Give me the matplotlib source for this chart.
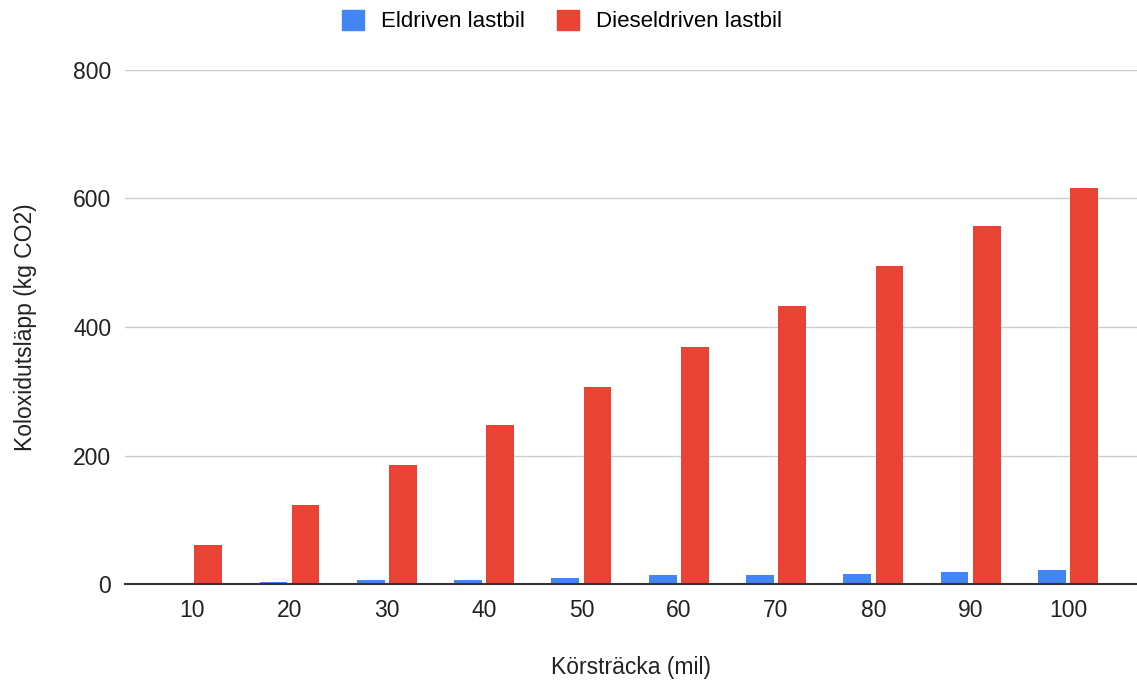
import numpy as np
import matplotlib.pyplot as plt
from matplotlib.patches import Patch

plt.rcParams['font.family'] = ['Liberation Sans', 'DejaVu Sans']

categories = ['10', '20', '30', '40', '50', '60', '70', '80', '90', '100']
eldriven = [0, 4, 7, 7, 10, 13.5, 13.5, 16, 19, 22]
diesel = [61, 123, 185, 247, 307, 369, 432, 495, 557, 616]

blue = '#4285F4'
red = '#EA4335'

fig = plt.figure(figsize=(11.37, 6.84), dpi=100)
ax = fig.add_axes([0.11, 0.146, 0.89, 0.752])

x = np.arange(len(categories))
w = 0.285
ax.bar(x - 0.165, eldriven, w, color=blue, zorder=3)
ax.bar(x + 0.165, diesel, w, color=red, zorder=3)

ax.set_xlim(-0.69, 9.71)
ax.set_ylim(0, 800)
ax.set_yticks([0, 200, 400, 600, 800])
ax.set_xticks(x)
ax.set_xticklabels(categories)
ax.tick_params(axis='both', length=0, labelsize=16.5, colors='#222222')
ax.tick_params(axis='x', pad=11)
ax.tick_params(axis='y', pad=10)
ax.grid(axis='y', color='#cccccc', linewidth=1, zorder=0)
for s in ['top', 'right', 'left']:
    ax.spines[s].set_visible(False)
ax.spines['bottom'].set_color('#333333')
ax.spines['bottom'].set_linewidth(1.5)
ax.spines['bottom'].set_zorder(4)

ax.set_xlabel('Körsträcka (mil)', fontsize=16.5, color='#222222', labelpad=24)
ax.set_ylabel('Koloxidutsläpp (kg CO2)', fontsize=16.5, color='#222222', labelpad=26)

handles = [Patch(color=blue, label='Eldriven lastbil'),
           Patch(color=red, label='Dieseldriven lastbil')]
fig.legend(handles=handles, loc='upper center', bbox_to_anchor=(0.494, 1.015), ncol=2,
           frameon=False, fontsize=16, handlelength=1.0, handleheight=1.0,
           columnspacing=1.45, handletextpad=0.75)

fig.savefig('out.png')
